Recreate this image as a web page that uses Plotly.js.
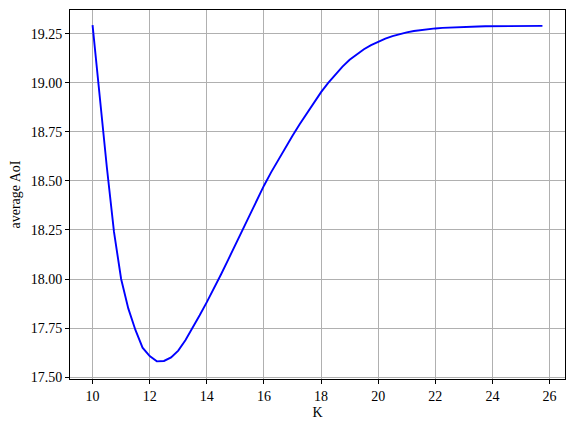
<!DOCTYPE html>
<html>
<head>
<meta charset="utf-8">
<script src="https://cdn.plot.ly/plotly-3.0.1.min.js"></script>
<style>
  html, body { margin: 0; padding: 0; background: #fff; }
  #aoiPlot { width: 575px; height: 429px; }
</style>
</head>
<body>
<div id="aoiPlot"></div>
<script>
// K values (step 0.25)
var kValues = [
  10.00, 10.25, 10.50, 10.75, 11.00, 11.25, 11.50, 11.75,
  12.00, 12.25, 12.50, 12.75, 13.00, 13.25, 13.50, 13.75,
  14.00, 14.25, 14.50, 14.75, 15.00, 15.25, 15.50, 15.75,
  16.00, 16.25, 16.50, 16.75, 17.00, 17.25, 17.50, 17.75,
  18.00, 18.25, 18.50, 18.75, 19.00, 19.25, 19.50, 19.75,
  20.00, 20.25, 20.50, 20.75, 21.00, 21.25, 21.50, 21.75,
  22.00, 22.25, 22.50, 22.75, 23.00, 23.25, 23.50, 23.75,
  24.00, 24.25, 24.50, 24.75, 25.00, 25.25, 25.50, 25.75
];
// average AoI
var avgAoI = [
  19.295, 18.92, 18.57, 18.24, 18.00, 17.85, 17.74, 17.650,
  17.607, 17.580, 17.582, 17.600, 17.635, 17.688, 17.750, 17.815,
  17.882, 17.951, 18.024, 18.099, 18.175, 18.254, 18.331, 18.405,
  18.476, 18.544, 18.609, 18.671, 18.731, 18.789, 18.845, 18.899,
  18.953, 19.000, 19.044, 19.083, 19.118, 19.147, 19.172, 19.193,
  19.211, 19.226, 19.239, 19.249, 19.258, 19.265, 19.270, 19.274,
  19.278, 19.281, 19.283, 19.285, 19.286, 19.287, 19.288, 19.289,
  19.289, 19.290, 19.290, 19.290, 19.291, 19.291, 19.291, 19.291
];
var yTicks = [17.50, 17.75, 18.00, 18.25, 18.50, 18.75, 19.00, 19.25];

var fontFamily = '"Liberation Serif", "DejaVu Serif", serif';

var trace = {
  x: kValues, y: avgAoI, mode: 'lines', type: 'scatter',
  line: {color: '#0000ff', width: 1.9}, showlegend: false,
  hoverinfo: 'skip'
};

var layout = {
  width: 575,
  height: 429,
  margin: {l: 70, r: 10, t: 10, b: 50},
  paper_bgcolor: '#ffffff',
  plot_bgcolor: '#ffffff',
  font: {family: fontFamily, size: 14, color: '#000'},
  showlegend: false,
  xaxis: {
    title: {text: 'K', standoff: 4, font: {size: 14}},
    range: [9.21, 26.54],
    tickmode: 'linear', tick0: 10, dtick: 2,
    showline: true, mirror: true, linecolor: '#000', linewidth: 1,
    ticks: 'outside', ticklen: 4, tickcolor: '#000', tickwidth: 1,
    showgrid: true, gridcolor: '#b0b0b0', gridwidth: 1,
    zeroline: false
  },
  yaxis: {
    title: {text: 'average AoI', standoff: 6, font: {size: 14}},
    range: [17.49, 19.372],
    tickmode: 'array', tickvals: yTicks,
    ticktext: yTicks.map(function (v) { return v.toFixed(2); }),
    showline: true, mirror: true, linecolor: '#000', linewidth: 1,
    ticks: 'outside', ticklen: 4, tickcolor: '#000', tickwidth: 1,
    showgrid: true, gridcolor: '#b0b0b0', gridwidth: 1,
    zeroline: false
  }
};

Plotly.newPlot(document.getElementById('aoiPlot'), [trace], layout, {staticPlot: true});
</script>
</body>
</html>
